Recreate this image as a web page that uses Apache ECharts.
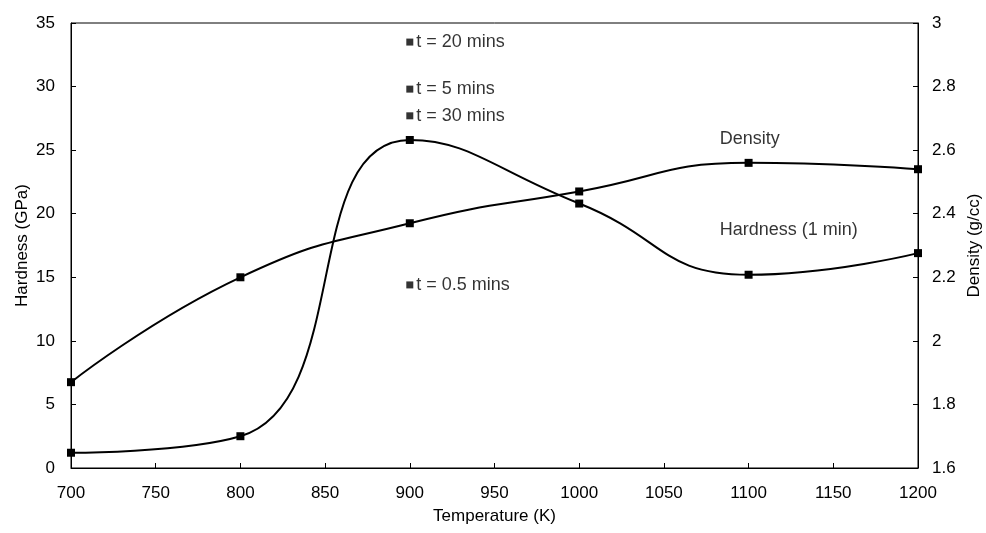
<!DOCTYPE html>
<html>
<head>
<meta charset="utf-8">
<script src="https://cdn.jsdelivr.net/npm/echarts@6/dist/echarts.min.js"></script>
<style>
	html, body { margin: 0; padding: 0; background: #fff; }
	#chart { width: 986px; height: 533px; }
</style>
</head>
<body>
<div id="chart"></div>
<script>
	// temperatures (K)
	var temps = [700, 800, 900, 1000, 1100, 1200];
	// hardness after 1 min (GPa), left axis
	var hardness = [1.2, 2.5, 25.8, 20.8, 15.2, 16.9];
	// density (g/cc), right axis
	var density = [1.87, 2.20, 2.37, 2.47, 2.56, 2.54];
	// other hold times at 900 K
	var holdTemp = 900;
	var holdLabels = ['t = 20 mins', 't = 5 mins', 't = 30 mins', 't = 0.5 mins'];
	var holdHardness = [33.5, 29.8, 27.7, 14.4];
	// curve names placed in the plot
	var curveNames = ['Density', 'Hardness (1 min)'];
	var curveNamePos = [[1083, 25.9], [1083, 18.7]];

	function pairs(xs, ys) {
		return xs.map(function(x, i) { return [x, ys[i]]; });
	}

	var font = 'Liberation Sans, Arial, sans-serif';
	var axisCommon = {
		axisLine: { show: true, lineStyle: { color: '#000', width: 1 } },
		axisTick: { show: true, inside: true, length: 5, lineStyle: { color: '#000' } },
		splitLine: { show: false },
		axisLabel: { color: '#000', fontSize: 17, fontFamily: font },
		nameTextStyle: { color: '#000', fontSize: 17, fontFamily: font }
	};

	var chart = echarts.init(document.getElementById('chart'));
	var option = {
		animation: false,
		grid: {
			left: 71, right: 68, top: 23, bottom: 65,
			outerBoundsMode: 'none',
			show: true, borderColor: '#000', borderWidth: 1
		},
		xAxis: Object.assign({}, axisCommon, {
			type: 'value', min: 700, max: 1200, interval: 50,
			name: 'Temperature (K)', nameLocation: 'middle', nameGap: 40,
			axisLabel: Object.assign({}, axisCommon.axisLabel, {
				margin: 17,
				formatter: function(v) { return String(v); }
			})
		}),
		yAxis: [
			Object.assign({}, axisCommon, {
				type: 'value', min: 0, max: 35, interval: 5,
				name: 'Hardness (GPa)', nameLocation: 'middle', nameGap: 40, nameRotate: 90,
				nameMoveOverlap: false,
				axisLabel: Object.assign({}, axisCommon.axisLabel, { margin: 16 })
			}),
			Object.assign({}, axisCommon, {
				type: 'value', min: 1.6, max: 3, interval: 0.2, position: 'right',
				name: 'Density (g/cc)', nameLocation: 'middle', nameGap: 48, nameRotate: 90,
				nameMoveOverlap: false,
				axisLabel: Object.assign({}, axisCommon.axisLabel, { margin: 14 })
			})
		],
		series: [{
			name: 'Hardness (1 min)',
			type: 'line',
			yAxisIndex: 0,
			smooth: 0.5,
			symbol: 'rect',
			symbolSize: 8,
			itemStyle: { color: '#000' },
			lineStyle: { color: '#000', width: 2 },
			data: pairs(temps, hardness)
		}, {
			name: 'Density',
			type: 'line',
			yAxisIndex: 1,
			smooth: 0.5,
			symbol: 'rect',
			symbolSize: 8,
			itemStyle: { color: '#000' },
			lineStyle: { color: '#000', width: 2 },
			data: pairs(temps, density)
		}, {
			name: 'Hold times',
			type: 'scatter',
			yAxisIndex: 0,
			symbol: 'rect',
			symbolSize: 7,
			itemStyle: { color: '#000' },
			label: {
				show: true, position: 'right', distance: 3,
				color: '#000', fontSize: 18, fontFamily: font,
				formatter: function(p) { return holdLabels[p.dataIndex]; }
			},
			data: holdHardness.map(function(v) { return [holdTemp, v]; })
		}, {
			name: 'Curve names',
			type: 'scatter',
			yAxisIndex: 0,
			symbolSize: 0,
			label: {
				show: true, position: 'right', distance: 0,
				color: '#000', fontSize: 18, fontFamily: font,
				formatter: function(p) { return curveNames[p.dataIndex]; }
			},
			data: curveNamePos
		}]
	};
	chart.setOption(option);
</script>
</body>
</html>
